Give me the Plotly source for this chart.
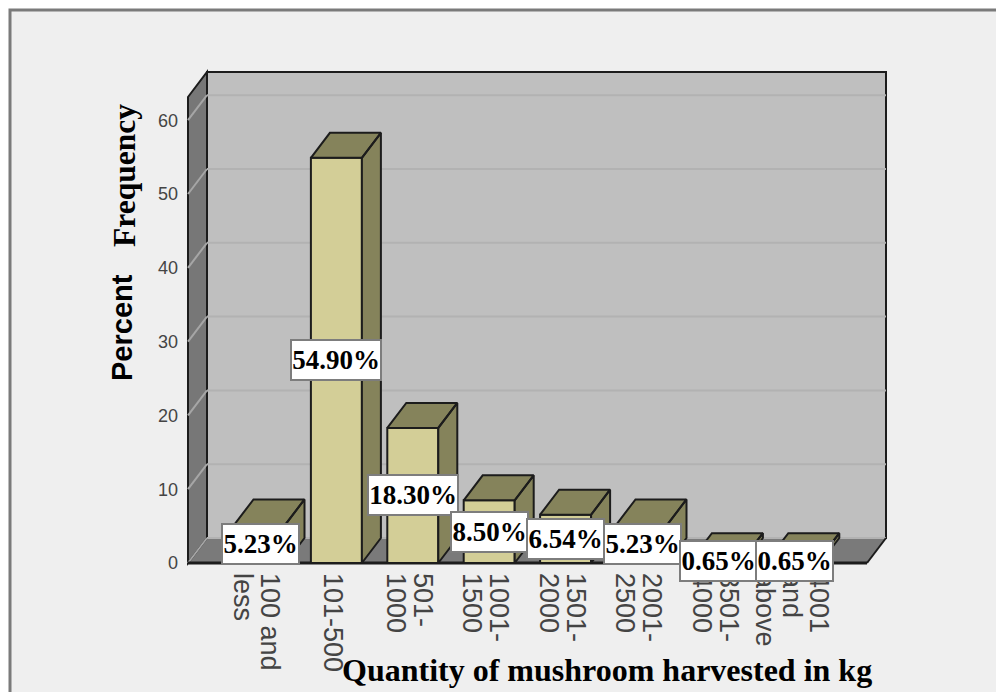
import plotly.graph_objects as go

# Harvest classes and their share of respondents
categories = ["100 and<br>less", "101-500", "501-<br>1000", "1001-<br>1500",
              "1501-<br>2000", "2001-<br>2500", "3501-<br>4000", "4001<br>and<br>above"]
percent = [5.23, 54.90, 18.30, 8.50, 6.54, 5.23, 0.65, 0.65]
y_ticks = [0, 10, 20, 30, 40, 50, 60]

WIDTH, HEIGHT = 996, 692

# Pixel box of the plot area and the scale it implies
PX_LEFT, PX_RIGHT, PX_TOP, PX_BOTTOM = 185, 889, 69, 566
PX_PER_CAT = 76.4
PX_PER_UNIT = 7.38
PX_X0 = 260.0     # horizontal pixel of the first bar centre
PX_Y0 = 563.0     # vertical pixel of the zero line

DX = 19 / PX_PER_CAT      # depth of the 3D projection, in axis units
DY = 25 / PX_PER_UNIT
BAR_W = 51 / PX_PER_CAT
X_FRONT_L = (188 - PX_X0) / PX_PER_CAT
X_FRONT_R = (867 - PX_X0) / PX_PER_CAT
Y_WALL_TOP = (PX_Y0 - 97) / PX_PER_UNIT   # front height of the box

x_pos = list(range(len(categories)))

# Rotated labels are set one line per tick so the line pitch stays tight
LINE_PITCH = 27 / PX_PER_CAT
LABEL_SHIFT = -3.5 / PX_PER_CAT
tick_x, tick_text = [], []
for x, label in zip(x_pos, categories):
    lines = label.split("<br>")
    for i, line in enumerate(lines):
        tick_x.append(x + LABEL_SHIFT + ((len(lines) - 1) / 2 - i) * LINE_PITCH)
        tick_text.append(line)


def paper_x(px):
    return (px - PX_LEFT) / (PX_RIGHT - PX_LEFT)


def paper_y(px):
    return (PX_BOTTOM - px) / (PX_BOTTOM - PX_TOP)


def poly(points):
    return "M " + " L ".join(f"{x:.4f} {y:.4f}" for x, y in points) + " Z"


EDGE = "#1c1c1c"
shapes = [
    # panel behind the chart
    dict(type="rect", xref="paper", yref="paper", layer="below",
         x0=paper_x(10), x1=paper_x(1010), y0=paper_y(10), y1=paper_y(720),
         fillcolor="#efefef", line=dict(color="#7a7a7a", width=3)),
    # back wall
    dict(type="path", layer="below", fillcolor="#bfbfbf", line=dict(color=EDGE, width=2),
         path=poly([(X_FRONT_L + DX, DY), (X_FRONT_L + DX, Y_WALL_TOP + DY),
                    (X_FRONT_R + DX, Y_WALL_TOP + DY), (X_FRONT_R + DX, DY)])),
    # floor
    dict(type="path", layer="below", fillcolor="#7a7a7a", line=dict(color=EDGE, width=0),
         path=poly([(X_FRONT_L, 0), (X_FRONT_R, 0), (X_FRONT_R + DX, DY), (X_FRONT_L + DX, DY)])),
    # left wall
    dict(type="path", layer="below", fillcolor="#777777", line=dict(color=EDGE, width=2),
         path=poly([(X_FRONT_L, 0), (X_FRONT_L, Y_WALL_TOP),
                    (X_FRONT_L + DX, Y_WALL_TOP + DY), (X_FRONT_L + DX, DY)])),
]
for t in y_ticks:
    shapes.append(dict(type="line", layer="below", x0=X_FRONT_L + DX, x1=X_FRONT_R + DX,
                       y0=t + DY, y1=t + DY, line=dict(color="#b2b2b2", width=2)))
    shapes.append(dict(type="line", layer="below", x0=X_FRONT_L, x1=X_FRONT_L + DX,
                       y0=t, y1=t + DY, line=dict(color="#a6a6a6", width=2)))
# Outline segments of the floor
shapes += [
    dict(type="line", layer="below", x0=X_FRONT_L, x1=X_FRONT_R, y0=0, y1=0,
         line=dict(color=EDGE, width=3)),
    dict(type="line", layer="below", x0=X_FRONT_R, x1=X_FRONT_R + DX, y0=0, y1=DY,
         line=dict(color=EDGE, width=2)),
]

fig = go.Figure()

# Front faces of the bars
fig.add_bar(x=x_pos, y=percent, width=BAR_W, marker=dict(color="#d3ce97", line=dict(color=EDGE, width=2)),
            showlegend=False, hoverinfo="skip")

# Top and side faces, projected back from each bar's value
xs, ys = [], []
for x, v in zip(x_pos, percent):
    l, r = x - BAR_W / 2, x + BAR_W / 2
    xs += [l, r, r + DX, l + DX, l, None, r, r + DX, r + DX, r, r, None]
    ys += [v, v, v + DY, v + DY, v, None, 0, DY, v + DY, v, 0, None]
fig.add_scatter(x=xs, y=ys, mode="lines", fill="toself", fillcolor="#85835b",
                line=dict(color=EDGE, width=2), showlegend=False, hoverinfo="skip", cliponaxis=False)

annotations = []
# Value labels, centred at half of each bar's height
for x, v in zip(x_pos, percent):
    text = f"{v:.2f}%"
    annotations.append(dict(x=x, y=v / 2, xref="x", yref="y", text=f"<b>{text}</b>", showarrow=False,
                            font=dict(family="Liberation Serif", size=27, color="#000000"),
                            bgcolor="#ffffff", bordercolor="#7d7d7d", borderwidth=2, borderpad=0,
                            width=13 * len(text) + 10, height=38, align="center",
                            xanchor="center", yanchor="middle"))

# Axis titles
annotations += [
    dict(x=paper_x(607), y=paper_y(670), xref="paper", yref="paper", showarrow=False,
         xanchor="center", yanchor="middle",
         text="<b>Quantity of mushroom harvested in kg</b>",
         font=dict(family="Liberation Serif", size=32, color="#000000")),
    dict(x=paper_x(124), y=paper_y(176), xref="paper", yref="paper", showarrow=False, textangle=-90,
         xanchor="center", yanchor="middle",
         text="<b>Frequency</b>", font=dict(family="Liberation Serif", size=31.5, color="#000000")),
    dict(x=paper_x(122), y=paper_y(328), xref="paper", yref="paper", showarrow=False, textangle=-90,
         xanchor="center", yanchor="middle",
         text="<b>Percent</b>", font=dict(family="Liberation Sans", size=29, color="#000000")),
]

fig.update_layout(
    width=WIDTH, height=HEIGHT, autosize=False,
    margin=dict(l=PX_LEFT, r=WIDTH - PX_RIGHT, t=PX_TOP, b=HEIGHT - PX_BOTTOM, pad=0),
    paper_bgcolor="#ffffff", plot_bgcolor="rgba(0,0,0,0)",
    shapes=shapes, annotations=annotations, showlegend=False,
    xaxis=dict(range=[(PX_LEFT - PX_X0) / PX_PER_CAT, (PX_RIGHT - PX_X0) / PX_PER_CAT],
               tickmode="array", tickvals=tick_x, ticktext=tick_text, tickangle=90,
               ticks="", showgrid=False, zeroline=False, showline=False, automargin=False,
               ticklabelstandoff=6,
               tickfont=dict(family="Liberation Sans", size=27, color="#444444")),
    yaxis=dict(range=[(PX_Y0 - PX_BOTTOM) / PX_PER_UNIT, (PX_Y0 - PX_TOP) / PX_PER_UNIT],
               tickmode="array", tickvals=y_ticks, ticks="", showgrid=False, zeroline=False,
               showline=False, automargin=False, ticklabelstandoff=6,
               tickfont=dict(family="Liberation Sans", size=18, color="#444444")),
)

fig.write_html("out.html")
